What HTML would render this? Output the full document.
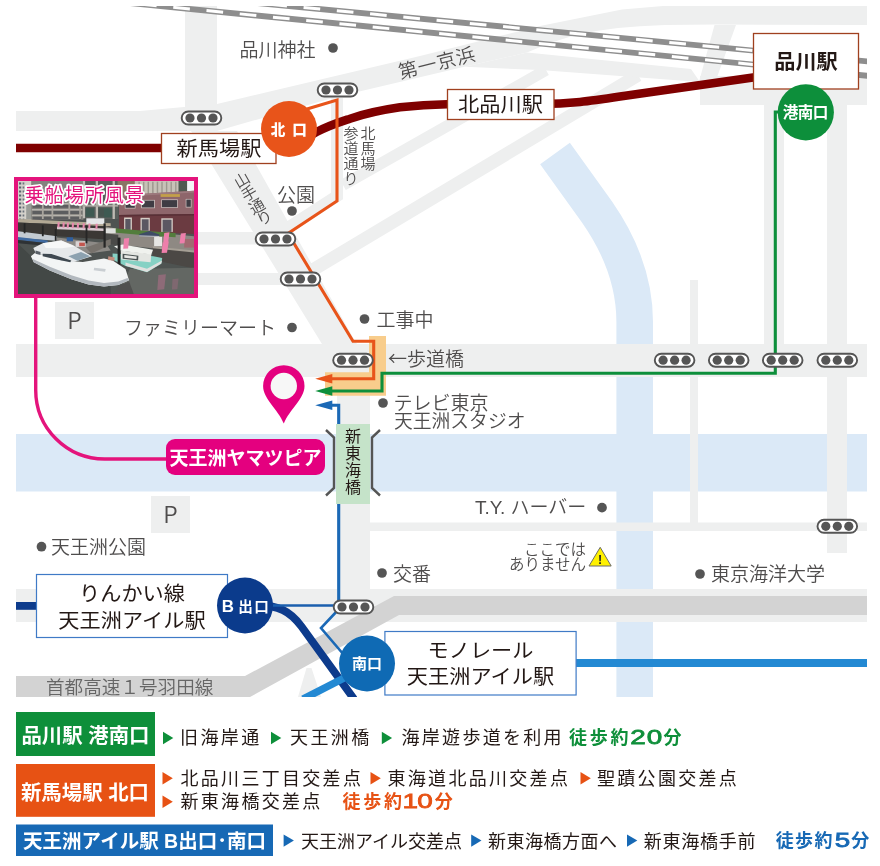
<!DOCTYPE html>
<html lang="ja">
<head>
<meta charset="utf-8">
<title>アクセスマップ</title>
<style>
html,body{margin:0;padding:0;background:#fff}
body{width:880px;height:866px;overflow:hidden;font-family:"Liberation Sans","Noto Sans CJK JP",sans-serif}
svg{display:block;position:absolute;left:0;top:0;will-change:transform}
text{font-family:"Liberation Sans","Noto Sans CJK JP",sans-serif}
.lb{fill:#4f4d4d;font-weight:350;font-size:19px}
.st{fill:#231815;font-weight:400;font-size:21.2px;text-anchor:middle}
.cw{fill:#fff;font-weight:700;text-anchor:middle}
.lg{fill:#231815;font-weight:400;font-size:18px}
</style>
</head>
<body>
<svg width="880" height="866" viewBox="0 0 880 866">
<defs>
<clipPath id="mapclip"><rect x="16" y="6" width="851" height="691"/></clipPath>
<clipPath id="photoclip"><rect x="18" y="181" width="176" height="113"/></clipPath>
<g id="sig">
<rect x="-19.8" y="-6.5" width="39.6" height="13" rx="6.5" fill="#fff" stroke="#555" stroke-width="1.9"/>
<circle cx="-11.5" cy="0" r="4.6" fill="#555"/><circle cx="0" cy="0" r="4.6" fill="#555"/><circle cx="11.5" cy="0" r="4.6" fill="#555"/>
</g>
</defs>

<!-- ================= MAP ================= -->
<g clip-path="url(#mapclip)">
<!-- rivers -->
<g id="rivers">
<rect x="16" y="434" width="851" height="57.5" fill="#dbe9f7"/>
<path d="M555,153.5 L597,212 C620,245 634.7,280 634.7,322 L634.7,700" fill="none" stroke="#dbe9f7" stroke-width="36.6"/>
</g>
<!-- roads (over river) -->
<g fill="#eeefef">
<rect x="16" y="344" width="851" height="33"/>
<rect x="370" y="522.5" width="497" height="8.5"/>
</g>
<!-- light roads -->
<g id="roads" fill="#eeefef">
<rect x="185" y="6" width="32" height="125"/>
<polygon points="16,111 140,111 217,104 420,56 540,26 622,9.5 663,6 867,6 867,25 714,24.5 665,25 640,26.2 618,28 596,31 574,35.5 550,43 527,52.6 464.5,66.8 337,96.7 217,131 16,131"/>
<polygon points="191,131 237,131 355,341 357,344 322,344"/>
<rect x="16" y="232" width="250" height="12.5"/>
<rect x="16" y="273" width="270" height="12"/>
<rect x="700" y="76" width="167" height="29"/>
<rect x="764" y="105" width="20" height="240"/>
<rect x="827" y="105" width="20" height="448"/>
<rect x="690" y="280" width="8" height="251"/>
<rect x="337" y="377" width="33" height="240"/>
<rect x="16" y="589" width="851" height="33"/>
<polygon points="306.5,668 311.5,668 321,697 298,697"/>
</g>
<g id="diag" fill="none" stroke="#eeefef" stroke-width="13.5">
<path d="M343,185 L546,70" stroke-width="11.5"/>
<path d="M312,270.4 L638,75.2" stroke-width="13"/>
<path d="M337,98 L337,196 L286,229" stroke-width="12" stroke-linejoin="miter"/>
</g>
<polygon points="714.5,25 736,25 716,80 699.5,80" fill="#eeefef"/>
<polygon points="464.5,66.8 527,52.6 691,69 700,82 540,70" fill="#eeefef"/>
<!-- gray expressway band -->
<polygon points="16,676 245,676 394,596 867,596 867,615 399,615 250,697 16,697" fill="#d3d3d3"/>

<!-- JR lines -->
<g fill="none">
<path d="M100,-12 L900,64.6" stroke="#8e8e8e" stroke-width="5.8"/>
<path d="M100,-12 L900,64.6" stroke="#fff" stroke-width="3" stroke-dasharray="16.7 16.7" stroke-dashoffset="29.3"/>
<path d="M100,0.1 L900,79" stroke="#8e8e8e" stroke-width="5.8"/>
<path d="M100,0.1 L900,79" stroke="#fff" stroke-width="3" stroke-dasharray="16.7 16.7" stroke-dashoffset="26.6"/>
</g>

<!-- Keikyu line -->
<g fill="none" stroke="#7f0000" stroke-width="8.5">
<path d="M16,148 L170,148"/>
<path d="M296,143.5 L316.5,132 C330,125 340,122 350,118.7 C365,113.5 385,109.5 400,107.3 C415,105.5 430,104.4 447,104.2 L460,104.2"/>
<path d="M540,104 C570,104 590,101 620,96.5 L760,76.5"/>
</g>

<!-- Rinkai / monorail lines -->
<path d="M16,605.9 L40,605.9" stroke="#0d3b8c" stroke-width="7.8" fill="none"/>
<path d="M256,605 C279,605.5 290,611 301.5,626.5 L354,699" stroke="#0d3b8c" stroke-width="7.8" fill="none"/>
<path d="M348,676 L303,699" stroke="#2389d3" stroke-width="7.5" fill="none"/>
<path d="M570,663 L867,663" stroke="#2389d3" stroke-width="8.2" fill="none"/>
</g>

<!-- peach highlight -->
<path d="M369,336 H386 V395.8 H325 V372.3 H369 Z" fill="#f8cd8c"/>

<!-- routes -->
<g fill="none" stroke-width="3.1" stroke-linejoin="miter">
<path d="M307,109 L337,100 L337,201 L288,233.5 L353,341.2 L373.7,341.2 L373.7,378.7 L331,378.7" stroke="#e8541a"/>
<path d="M783,112 L775.3,112 L775.3,373.2 L382,373.2 L382,391 L331,391" stroke="#0d8f3b"/>
<path d="M331,405.3 L338.7,405.3 L338.7,602" stroke="#1b69b6"/>
<path d="M270,605.5 L336,605.5" stroke="#1b5fae" stroke-width="2.6"/>
<path d="M338,610 L321,628 L344,655" stroke="#1b69b6" stroke-width="2.6"/>
<path d="M35.7,296 L35.7,390 A69,69 0 0 0 104.7,459 L170,459" stroke="#e4147c" stroke-width="3.4"/>
</g>
<polygon points="315.2,378.7 332.3,374 332.3,383.4" fill="#e8541a"/>
<polygon points="315.2,391 332.3,386.3 332.3,395.7" fill="#0d8f3b"/>
<polygon points="315.2,405.3 332.3,400.6 332.3,410" fill="#1b69b6"/>

<!-- bridge -->
<rect x="336" y="424" width="34" height="80" fill="#c5e3c9"/>
<g fill="none" stroke="#555" stroke-width="2.4">
<path d="M326,430 L334,437.5 L334,488 L326,495.5"/>
<path d="M380,430 L372,437.5 L372,488 L380,495.5"/>
</g>

<!-- signals -->
<use href="#sig" x="337.5" y="90"/>
<use href="#sig" x="201.5" y="118"/>
<use href="#sig" x="275.5" y="239"/>
<use href="#sig" x="300.5" y="279"/>
<use href="#sig" x="353" y="360.2"/>
<use href="#sig" x="353.5" y="607"/>
<use href="#sig" x="674.6" y="360.2"/>
<use href="#sig" x="728.7" y="360.2"/>
<use href="#sig" x="782.7" y="360.2"/>
<use href="#sig" x="837.3" y="360.2"/>
<use href="#sig" x="837.3" y="526.3"/>

<!-- P boxes -->
<rect x="55" y="302" width="39" height="37" fill="#eeefef"/>
<rect x="151" y="496" width="39" height="37" fill="#eeefef"/>
<text x="74.5" y="329" class="lb" style="font-size:23px;text-anchor:middle;font-family:'Noto Sans CJK JP',sans-serif">P</text>
<text x="170.5" y="523" class="lb" style="font-size:23px;text-anchor:middle;font-family:'Noto Sans CJK JP',sans-serif">P</text>

<!-- station boxes -->
<g fill="#fff" stroke="#a0401f" stroke-width="1.3">
<rect x="161.5" y="133.5" width="114.5" height="30"/>
<rect x="447.5" y="89.5" width="106.5" height="30"/>
<rect x="753.5" y="33.5" width="105" height="55.5"/>
</g>
<g fill="#fff" stroke="#3f7ac6" stroke-width="1.2">
<rect x="36.5" y="574.5" width="191" height="63"/>
<rect x="384.9" y="631.5" width="191.2" height="63.5"/>
</g>
<text x="219" y="156.5" transform="translate(0 156.5) scale(1 0.94) translate(0 -156.5)" class="st">新馬場駅</text>
<text x="500.5" y="112.5" transform="translate(0 112.5) scale(1 0.94) translate(0 -112.5)" class="st">北品川駅</text>
<text x="806" y="69.0" transform="translate(0 69.0) scale(1 0.94) translate(0 -69.0)" class="st" style="font-weight:700">品川駅</text>
<text x="132" y="601.0" transform="translate(0 601.0) scale(1 0.94) translate(0 -601.0)" class="st">りんかい線</text>
<text x="132" y="628.0" transform="translate(0 628.0) scale(1 0.94) translate(0 -628.0)" class="st">天王洲アイル駅</text>
<text x="480.5" y="658.0" transform="translate(0 658.0) scale(1 0.94) translate(0 -658.0)" class="st">モノレール</text>
<text x="480.5" y="684.5" transform="translate(0 684.5) scale(1 0.94) translate(0 -684.5)" class="st">天王洲アイル駅</text>

<!-- circles -->
<circle cx="289" cy="129" r="28" fill="#e8541a"/>
<text x="288.8" y="135.3" class="cw" style="font-size:14.6px;font-weight:900;word-spacing:3px">北 口</text>
<circle cx="805.8" cy="112.3" r="28.1" fill="#0d8f3b"/>
<text x="805.3" y="118" class="cw" style="font-size:15.6px;letter-spacing:-0.6px">港南口</text>
<circle cx="245" cy="605.5" r="28" fill="#0b3b8c"/>
<text y="612" class="cw" style="text-anchor:start"><tspan x="221.8" style="font-size:16.9px">B</tspan><tspan x="238.2" style="font-size:14.6px;letter-spacing:1.4px">出口</tspan></text>
<circle cx="367" cy="663.5" r="28" fill="#0f6ab4"/>
<text x="367" y="669" class="cw" style="font-size:15px">南口</text>

<!-- pin -->
<path d="M283.8,423.6 C278,409 263.1,399 263.1,386 A20.7,20.7 0 1 1 304.5,386 C304.5,399 289.6,409 283.8,423.6 Z" fill="#e4007f"/>
<circle cx="283.8" cy="386" r="13.2" fill="#f7f7f7"/>

<!-- pink label -->
<rect x="166" y="439" width="159" height="36" rx="9" fill="#e4007f"/>
<text x="245.5" y="464.5" class="cw" style="font-size:19px">天王洲ヤマツピア</text>

<!-- bridge text -->
<g style="font-size:16px;fill:#231815;text-anchor:middle;font-weight:400">
<text x="353" y="442.3">新</text><text x="353" y="459.3">東</text><text x="353" y="476.3">海</text><text x="353" y="493.3">橋</text>
</g>

<!-- labels & dots -->
<g fill="#555">
<circle cx="333" cy="48" r="4.85"/>
<circle cx="292" cy="211" r="4.85"/>
<circle cx="292" cy="327.5" r="4.85"/>
<circle cx="364.5" cy="319" r="4.85"/>
<circle cx="383" cy="403" r="4.85"/>
<circle cx="41.5" cy="546.7" r="4.85"/>
<circle cx="602" cy="507.6" r="4.85"/>
<circle cx="382" cy="573" r="4.85"/>
<circle cx="700" cy="574" r="4.85"/>
</g>
<text x="239.5" y="56.5" class="lb">品川神社</text>
<text x="400.5" y="79" class="lb" style="letter-spacing:0.7px" transform="rotate(-14 400.5 79)">第一京浜</text>
<g class="lb" style="font-size:15px;text-anchor:middle">
<text x="351" y="139">参</text><text x="351" y="154">道</text><text x="351" y="169">通</text><text x="351" y="184">り</text>
<text x="368" y="139">北</text><text x="368" y="154">馬</text><text x="368" y="169">場</text>
</g>
<g class="lb" style="font-size:15.5px;text-anchor:middle"><text transform="translate(241.8 180) rotate(-30)" x="0" y="5.6">山</text><text transform="translate(249.2 193.2) rotate(-30)" x="0" y="5.6">手</text><text transform="translate(256.9 206.2) rotate(-30)" x="0" y="5.6">通</text><text transform="translate(264.3 217.8) rotate(-30)" x="0" y="5.6">り</text></g>
<text x="277" y="202" class="lb">公園</text>
<text x="124" y="335" class="lb">ファミリーマート</text>
<text x="376.5" y="327" class="lb">工事中</text>
<text x="388" y="365.5" class="lb"><tspan style="font-family:'Noto Sans CJK JP',sans-serif">←</tspan>歩道橋</text>
<text x="393.5" y="410" class="lb" style="font-size:19px">テレビ東京</text>
<text x="394" y="428" class="lb" style="font-size:18.8px">天王洲スタジオ</text>
<text x="51" y="554" class="lb">天王洲公園</text>
<text x="475" y="514" class="lb">T.Y. ハーバー</text>
<text x="393" y="581" class="lb">交番</text>
<text x="586" y="554.5" class="lb" style="font-size:15.5px;text-anchor:end">ここでは</text>
<text x="586" y="570" class="lb" style="font-size:15.5px;text-anchor:end">ありません</text>
<text x="711" y="581" class="lb">東京海洋大学</text>
<text x="46" y="694" class="lb" style="fill:#666;font-size:18.6px">首都高速１号羽田線</text>

<!-- warning -->
<path d="M600.2,547.3 L611.2,566 L589,566 Z" fill="#fff100" stroke="#6b6b6b" stroke-width="1" stroke-linejoin="round"/>
<text x="600.2" y="564" style="font-size:12.5px;font-weight:700;fill:#222;text-anchor:middle">!</text>

<!-- ================= PHOTO ================= -->
<rect x="14" y="177" width="184" height="121" fill="#e4147c"/>
<g clip-path="url(#photoclip)" id="photo">
<rect x="17" y="180" width="178" height="115" fill="#4e5351"/>
<polygon points="17.6,180.3 31.9,180.3 31.9,219.7 17.6,219.7" fill="#d4d1cb"/>
<polygon points="19.0,182.4 21.2,182.4 21.2,184.5 19.0,184.5" fill="#59626e"/>
<polygon points="22.6,182.4 24.3,182.4 24.3,184.5 22.6,184.5" fill="#6b737c"/>
<polygon points="19.0,186.5 21.2,186.5 21.2,188.5 19.0,188.5" fill="#59626e"/>
<polygon points="22.6,186.5 24.3,186.5 24.3,188.5 22.6,188.5" fill="#6b737c"/>
<polygon points="19.0,190.5 21.2,190.5 21.2,192.5 19.0,192.5" fill="#59626e"/>
<polygon points="22.6,190.5 24.3,190.5 24.3,192.5 22.6,192.5" fill="#6b737c"/>
<polygon points="19.0,194.5 21.2,194.5 21.2,196.5 19.0,196.5" fill="#59626e"/>
<polygon points="22.6,194.5 24.3,194.5 24.3,196.5 22.6,196.5" fill="#6b737c"/>
<polygon points="19.0,198.5 21.2,198.5 21.2,200.5 19.0,200.5" fill="#59626e"/>
<polygon points="22.6,198.5 24.3,198.5 24.3,200.5 22.6,200.5" fill="#6b737c"/>
<polygon points="19.0,202.5 21.2,202.5 21.2,204.5 19.0,204.5" fill="#59626e"/>
<polygon points="22.6,202.5 24.3,202.5 24.3,204.5 22.6,204.5" fill="#6b737c"/>
<polygon points="19.0,206.5 21.2,206.5 21.2,208.5 19.0,208.5" fill="#59626e"/>
<polygon points="22.6,206.5 24.3,206.5 24.3,208.5 22.6,208.5" fill="#6b737c"/>
<polygon points="19.0,210.5 21.2,210.5 21.2,212.5 19.0,212.5" fill="#59626e"/>
<polygon points="22.6,210.5 24.3,210.5 24.3,212.5 22.6,212.5" fill="#6b737c"/>
<polygon points="19.0,214.5 21.2,214.5 21.2,216.5 19.0,216.5" fill="#59626e"/>
<polygon points="22.6,214.5 24.3,214.5 24.3,216.5 22.6,216.5" fill="#6b737c"/>
<polygon points="19.0,218.6 21.2,218.6 21.2,220.6 19.0,220.6" fill="#59626e"/>
<polygon points="22.6,218.6 24.3,218.6 24.3,220.6 22.6,220.6" fill="#6b737c"/>
<polygon points="26.2,203.2 31.9,203.2 31.9,219.0 26.2,219.0" fill="#9a9c98"/>
<polygon points="31.2,180.3 83.5,180.3 83.5,219.7 31.2,219.7" fill="#84827e"/>
<polygon points="32.6,204.7 81.3,204.7 81.3,207.8 32.6,207.8" fill="#5c5d5f"/>
<polygon points="32.6,210.8 81.3,210.8 81.3,214.0 32.6,214.0" fill="#5c5d5f"/>
<polygon points="32.6,216.5 81.3,216.5 81.3,219.7 32.6,219.7" fill="#5c5d5f"/>
<polygon points="31.9,202.9 82.8,202.9 82.8,204.4 31.9,204.4" fill="#b7b4ad"/>
<polygon points="31.9,209.1 82.8,209.1 82.8,210.5 31.9,210.5" fill="#b7b4ad"/>
<polygon points="31.9,214.8 82.8,214.8 82.8,216.3 31.9,216.3" fill="#b7b4ad"/>
<polygon points="41.9,193.2 43.7,193.2 43.7,219.0 41.9,219.0" fill="#a9a59e"/>
<polygon points="51.5,193.2 53.3,193.2 53.3,219.0 51.5,219.0" fill="#a9a59e"/>
<polygon points="68.4,193.2 70.2,193.2 70.2,219.0 68.4,219.0" fill="#a9a59e"/>
<polygon points="79.2,193.2 80.9,193.2 80.9,219.0 79.2,219.0" fill="#a9a59e"/>
<polygon points="82.8,180.3 110.7,180.3 110.7,218.3 82.8,218.3" fill="#5a5f5c"/>
<polygon points="82.8,180.3 85.1,180.3 85.1,218.3 82.8,218.3" fill="#bdbab3"/>
<polygon points="95.7,180.3 98.0,180.3 98.0,218.3 95.7,218.3" fill="#bdbab3"/>
<polygon points="107.8,180.3 110.1,180.3 110.1,218.3 107.8,218.3" fill="#bdbab3"/>
<polygon points="82.8,204.7 110.7,204.7 110.7,206.7 82.8,206.7" fill="#a9a7a0"/>
<polygon points="85.6,208.2 94.2,208.2 94.2,216.8 85.6,216.8" fill="#3e5a52"/>
<polygon points="98.5,208.2 107.1,208.2 107.1,216.8 98.5,216.8" fill="#46544f"/>
<polygon points="104.0,180.3 118.3,180.3 118.3,219.0 104.0,219.0" fill="#5a5f5c"/>
<polygon points="104.0,204.7 118.3,204.7 118.3,206.7 104.0,206.7" fill="#a9a7a0"/>
<polygon points="112.6,180.3 114.9,180.3 114.9,219.0 112.6,219.0" fill="#bdbab3"/>
<polygon points="104.0,208.2 111.9,208.2 111.9,217.5 104.0,217.5" fill="#3e5a52"/>
<polygon points="117.6,180.3 136.2,180.3 136.2,195.3 117.6,195.3" fill="#8a7565"/>
<polygon points="134.8,180.3 179.2,180.3 179.2,195.3 134.8,195.3" fill="#c8c2b8"/>
<polygon points="138.4,181.7 139.8,181.7 139.8,193.9 138.4,193.9" fill="#9d988f"/>
<polygon points="143.0,181.7 144.4,181.7 144.4,193.9 143.0,193.9" fill="#9d988f"/>
<polygon points="147.6,181.7 149.0,181.7 149.0,193.9 147.6,193.9" fill="#9d988f"/>
<polygon points="152.1,181.7 153.6,181.7 153.6,193.9 152.1,193.9" fill="#9d988f"/>
<polygon points="156.7,181.7 158.2,181.7 158.2,193.9 156.7,193.9" fill="#9d988f"/>
<polygon points="161.3,181.7 162.7,181.7 162.7,193.9 161.3,193.9" fill="#9d988f"/>
<polygon points="165.9,181.7 167.3,181.7 167.3,193.9 165.9,193.9" fill="#9d988f"/>
<polygon points="170.5,181.7 171.9,181.7 171.9,193.9 170.5,193.9" fill="#9d988f"/>
<polygon points="175.1,181.7 176.5,181.7 176.5,193.9 175.1,193.9" fill="#9d988f"/>
<polygon points="178.5,180.3 187.4,180.3 187.4,192.5 178.5,192.5" fill="#4f5950"/>
<polygon points="187.1,180.3 194.5,180.3 194.5,193.9 187.1,193.9" fill="#f3f5f6"/>
<polygon points="119.0,195.3 194.0,190.8 194.0,214.1 119.0,215.0" fill="#8e666b"/>
<polygon points="119.0,215.0 194.0,214.1 194.0,234.0 119.0,231.2" fill="#6b3b41"/>
<polygon points="119.0,195.3 194.0,190.8 194.0,192.5 119.0,197.1" fill="#9d7a7e"/>
<polygon points="124.8,200.4 135.5,200.4 135.5,208.5 124.8,208.5" fill="#cfc4c2"/>
<polygon points="125.5,201.1 134.8,201.1 134.8,207.8 125.5,207.8" fill="#3f3c44"/>
<polygon points="141.2,199.9 154.9,199.9 154.9,208.2 141.2,208.2" fill="#cfc4c2"/>
<polygon points="142.0,200.6 154.1,200.6 154.1,207.5 142.0,207.5" fill="#3f3c44"/>
<polygon points="161.3,199.4 177.8,199.4 177.8,207.9 161.3,207.9" fill="#cfc4c2"/>
<polygon points="162.0,200.1 177.1,200.1 177.1,207.2 162.0,207.2" fill="#3f3c44"/>
<polygon points="185.7,198.9 191.5,198.9 191.5,207.5 185.7,207.5" fill="#cfc4c2"/>
<polygon points="186.4,199.6 190.8,199.6 190.8,206.8 186.4,206.8" fill="#3f3c44"/>
<polygon points="124.1,217.5 131.9,217.5 131.9,229.9 124.1,229.9" fill="#d6cec7"/>
<polygon points="125.3,219.0 130.6,219.0 130.6,229.9 125.3,229.9" fill="#5b5762"/>
<polygon points="140.5,217.8 149.8,217.8 149.8,230.7 140.5,230.7" fill="#d6cec7"/>
<polygon points="141.8,219.3 148.6,219.3 148.6,230.7 141.8,230.7" fill="#5b5762"/>
<polygon points="161.3,218.3 172.8,218.3 172.8,231.9 161.3,231.9" fill="#d6cec7"/>
<polygon points="162.6,219.7 171.5,219.7 171.5,231.9 162.6,231.9" fill="#5b5762"/>
<polygon points="160.6,194.1 179.9,194.1 179.9,196.9 160.6,196.9" fill="#c3a04a"/>
<polygon points="119.0,215.0 194.0,214.1 194.0,215.5 119.0,216.4" fill="#5a2f36"/>
<polygon points="17.6,219.0 110.7,223.3 110.7,226.4 17.6,222.6" fill="#b3a995"/>
<polygon points="17.6,222.6 110.7,226.4 110.7,239.8 57.0,236.2 17.6,231.2" fill="#3b3835"/>
<polygon points="86.3,218.3 104.3,218.3 104.3,224.1 86.3,224.1" fill="#e4e6e8"/>
<polygon points="57.0,226.4 110.7,228.7 110.7,231.2 57.0,229.3" fill="#d8c9cf"/>
<polygon points="57.7,222.2 59.7,222.3 59.4,227.6 57.4,227.3" fill="#e889ae"/>
<polygon points="62.7,222.4 64.7,222.5 64.4,227.8 62.4,227.5" fill="#e889ae"/>
<polygon points="67.0,222.5 69.0,222.7 68.7,228.0 66.7,227.7" fill="#e889ae"/>
<polygon points="72.0,222.7 74.0,222.9 73.7,228.2 71.7,227.9" fill="#e889ae"/>
<polygon points="77.0,222.9 79.0,223.1 78.8,228.4 76.8,228.1" fill="#e889ae"/>
<polygon points="82.8,223.2 84.8,223.3 84.5,228.6 82.5,228.3" fill="#e889ae"/>
<polygon points="88.5,223.4 90.5,223.5 90.2,228.8 88.2,228.6" fill="#e889ae"/>
<polygon points="95.7,223.7 97.7,223.8 97.4,229.1 95.4,228.8" fill="#e889ae"/>
<polygon points="104.0,226.1 119.0,229.3 194.0,236.2 194.0,251.9 152.7,248.3 104.0,243.3" fill="#8e8983"/>
<polygon points="114.0,228.3 147.0,230.9 175.6,233.0 175.6,237.3 147.0,235.5 114.0,232.6" fill="#527d3c"/>
<polygon points="105.4,228.3 115.7,228.3 115.7,233.3 105.4,233.3" fill="#dfe0de"/>
<polygon points="104.0,233.3 118.3,234.7 118.3,245.5 104.0,243.3" fill="#4a4a48"/>
<polygon points="152.7,247.3 194.0,251.6 194.0,268.4 164.2,262.2 152.7,256.2" fill="#4b4845"/>
<polygon points="152.7,246.2 194.0,250.5 194.0,252.5 152.7,248.2" fill="#a59f95"/>
<polygon points="139.1,234.3 149.6,231.0 159.3,234.5 159.3,236.7 139.1,236.3" fill="#3f4c66"/>
<polygon points="139.1,235.5 159.3,235.9 159.3,236.7 139.1,236.3" fill="#e8e8e8"/>
<polygon points="154.1,236.9 162.0,236.9 162.0,246.2 154.1,246.2" fill="#e6e6e3"/>
<polygon points="184.2,239.0 194.0,239.0 194.0,247.6 184.2,247.6" fill="#a06a70"/>
<polygon points="17.6,231.2 57.0,236.2 57.0,240.8 17.6,237.9" fill="#c3cad1"/>
<polygon points="17.6,236.9 47.7,240.5 47.7,243.3 17.6,240.0" fill="#3f6aa0"/>
<polygon points="17.6,240.0 47.7,243.3 47.7,245.9 17.6,243.3" fill="#2e3235"/>
<polygon points="57.0,237.6 105.7,243.3 110.7,250.5 88.5,253.4 57.0,243.3" fill="#8d8a86"/>
<polygon points="66.7,237.3 73.0,237.3 73.0,241.3 66.7,241.3" fill="#2f5f9f"/>
<polygon points="75.6,241.2 85.6,241.2 85.6,246.9 75.6,246.9" fill="#d9d3d3"/>
<polygon points="79.2,242.6 84.9,242.6 84.9,246.2 79.2,246.2" fill="#c2564e"/>
<polygon points="85.6,247.6 110.7,239.0 110.7,244.8 91.4,253.4" fill="#77726c"/>
<polygon points="23.7,223.3 25.5,223.3 25.5,233.3 23.7,233.3" fill="#262626"/>
<polygon points="41.9,225.4 43.7,225.4 43.7,236.2 41.9,236.2" fill="#262626"/>
<polygon points="54.8,229.0 56.6,229.0 56.6,240.8 54.8,240.8" fill="#262626"/>
<polygon points="85.6,225.4 87.4,225.4 87.4,243.3 85.6,243.3" fill="#262626"/>
<polygon points="103.5,223.3 105.7,223.3 105.7,247.6 103.5,247.6" fill="#262626"/>
<polygon points="17.6,243.3 31.2,256.2 34.1,262.0 49.8,270.6 71.3,279.2 88.5,284.2 110.7,286.6 110.7,294.9 17.6,294.9" fill="#434846"/>
<polygon points="129.8,269.1 194.0,267.7 194.0,294.9 118.3,294.9" fill="#636763"/>
<polygon points="158.4,274.9 165.9,274.3 164.2,289.2 157.3,289.9" fill="#8e6b78"/>
<polygon points="172.5,279.2 178.5,278.6 177.4,289.2 171.9,289.5" fill="#7f6870"/>
<polygon points="118.3,286.3 129.1,281.3 134.1,294.9 112.6,294.9" fill="#50504f"/>
<polygon points="112.6,253.4 120.5,254.1 153.4,256.2 162.2,257.9 161.3,263.7 147.0,272.3 125.5,266.0 112.6,259.4" fill="#86d1c4"/>
<polygon points="125.5,265.7 147.0,272.0 161.3,263.4 162.0,260.5 147.0,268.8 125.5,262.5" fill="#e0e0de"/>
<polygon points="120.5,250.5 151.3,254.1 150.6,262.2 121.2,259.4" fill="#e4e6e2"/>
<polygon points="122.6,253.7 138.4,255.7 138.1,260.5 122.6,258.8" fill="#4a5252"/>
<polygon points="124.3,255.1 136.7,256.5 136.5,259.1 124.3,257.7" fill="#e9e9e6"/>
<polygon points="114.0,246.2 122.6,244.5 153.0,249.8 151.3,254.5 120.9,250.8" fill="#f0f2ee"/>
<polygon points="117.6,237.6 120.5,237.6 120.5,264.8 117.6,264.8" fill="#222222"/>
<polygon points="124.1,238.6 129.2,238.0 128.1,248.5 123.2,248.8" fill="#ee7fab"/>
<polygon points="164.2,232.9 169.5,232.3 168.2,241.9 163.3,242.2" fill="#ee7fab"/>
<polygon points="162.7,242.2 168.8,241.6 167.0,252.8 161.6,253.1" fill="#ee7fab"/>
<polygon points="180.8,233.6 185.9,233.0 184.5,243.3 179.6,243.6" fill="#ee7fab"/>
<polygon points="30.9,256.2 35.5,252.4 61.3,260.2 82.8,262.0 104.0,258.4 112.6,260.5 125.5,269.1 129.0,280.3 118.3,284.9 104.0,286.6 88.5,284.5 71.3,279.2 49.8,270.6 33.8,262.2" fill="#f3f5f5"/>
<polygon points="33.8,262.2 49.8,270.6 71.3,279.2 88.5,284.5 104.0,286.6 118.3,284.9 129.0,280.3 127.5,278.0 118.3,281.4 104.0,282.9 88.5,280.6 71.3,275.3 49.8,266.8 32.3,258.8" fill="#b2b8be"/>
<polygon points="33.3,247.9 42.7,243.3 61.3,240.5 72.7,245.1 82.1,250.5 92.1,256.2 72.7,262.2 61.3,260.5 35.5,252.6" fill="#e5e8ea"/>
<polygon points="42.7,243.3 61.3,240.5 74.9,246.5 62.0,248.3 45.8,247.9" fill="#f7f8f8"/>
<polygon points="42.7,253.8 51.5,254.1 71.3,260.5 70.2,262.2 54.4,259.1 42.7,256.2" fill="#3e4850"/>
<polygon points="68.4,256.2 81.0,251.9 90.2,256.2 77.3,260.8" fill="#8da2b0"/>
<polygon points="35.5,250.5 40.5,251.9 40.5,255.1 35.5,253.7" fill="#5a6168"/>
<polygon points="108.3,256.2 114.7,257.4 114.3,260.8 108.0,260.0" fill="#c48c7d"/>
<polygon points="94.2,267.7 105.7,269.1 105.1,271.7 93.7,270.3" fill="#c9ced2"/>

</g>
<text x="24.5" y="201.5" style="font-size:19.2px;letter-spacing:0.9px;font-weight:400;fill:#e4147c;stroke:#fff;stroke-width:3.4;paint-order:stroke;stroke-linejoin:round">乗船場所風景</text>

<!-- ================= LEGEND ================= -->
<rect x="16" y="712" width="139" height="44" fill="#0e8f3a"/>
<rect x="16" y="764" width="139" height="52.8" fill="#e75214"/>
<rect x="16" y="824.5" width="257" height="31.5" fill="#1769b5"/>
<text x="85.5" y="743.3" class="cw" style="font-size:20.4px">品川駅 港南口</text>
<text x="85" y="799.5" class="cw" style="font-size:20.4px">新馬場駅 北口</text>
<text x="144.5" y="847.5" class="cw" style="font-size:19.5px">天王洲アイル駅 B出口･南口</text>
<!-- legend row 1 -->
<g class="lg" style="letter-spacing:2.4px">
<polygon points="163,731.8 173.3,738 163,744.2" fill="#0e8f3a"/>
<text x="180" y="744">旧海岸通</text>
<polygon points="271,731.8 281.3,738 271,744.2" fill="#0e8f3a"/>
<text x="290" y="744">天王洲橋</text>
<polygon points="381.8,731.8 392.1,738 381.8,744.2" fill="#0e8f3a"/>
<text x="401.5" y="744" style="letter-spacing:2.3px">海岸遊歩道を利用</text>
<text x="569" y="744" style="font-weight:700;fill:#0e8f3a;letter-spacing:2.7px">徒歩約</text>
<text transform="translate(637.9 744.4) scale(1.36 1)" x="0" y="0" style="font-size:20.5px;font-weight:400;fill:#0e8f3a;stroke:#0e8f3a;stroke-width:0.75;text-anchor:middle;letter-spacing:0">2</text><text transform="translate(654.5 744.4) scale(1.36 1)" x="0" y="0" style="font-size:20.5px;font-weight:400;fill:#0e8f3a;stroke:#0e8f3a;stroke-width:0.75;text-anchor:middle;letter-spacing:0">0</text>
<text x="663.4" y="744" style="font-weight:700;fill:#0e8f3a;letter-spacing:0">分</text>
</g>
<!-- legend row 2 -->
<g class="lg" style="letter-spacing:2.3px">
<polygon points="162.5,772.0 172.8,778.2 162.5,784.4000000000001" fill="#e75214"/>
<text x="180.5" y="785">北品川三丁目交差点</text>
<polygon points="370.5,772.0 380.8,778.2 370.5,784.4000000000001" fill="#e75214"/>
<text x="387.5" y="785">東海道北品川交差点</text>
<polygon points="580.5,772.0 590.8,778.2 580.5,784.4000000000001" fill="#e75214"/>
<text x="597" y="785">聖蹟公園交差点</text>
<polygon points="162.5,795.5 172.8,801.7 162.5,807.9000000000001" fill="#e75214"/>
<text x="180.5" y="808">新東海橋交差点</text>
<text x="342.5" y="808" style="font-weight:700;fill:#e75214;letter-spacing:2.7px">徒歩約</text>
<text transform="translate(410.2 808.4) scale(1.36 1)" x="0" y="0" style="font-size:20.5px;font-weight:400;fill:#e75214;stroke:#e75214;stroke-width:0.75;text-anchor:middle;letter-spacing:0">1</text><text transform="translate(425.1 808.4) scale(1.36 1)" x="0" y="0" style="font-size:20.5px;font-weight:400;fill:#e75214;stroke:#e75214;stroke-width:0.75;text-anchor:middle;letter-spacing:0">0</text>
<text x="434.7" y="808" style="font-weight:700;fill:#e75214;letter-spacing:0">分</text>
</g>
<!-- legend row 3 -->
<g class="lg">
<polygon points="283.6,834.4 293.90000000000003,840.6 283.6,846.8000000000001" fill="#1769b5"/>
<text x="301" y="847.5">天王洲アイル交差点</text>
<polygon points="471.2,834.4 481.5,840.6 471.2,846.8000000000001" fill="#1769b5"/>
<text x="488" y="847.5" style="letter-spacing:0.5px">新東海橋方面へ</text>
<polygon points="627,834.4 637.3,840.6 627,846.8000000000001" fill="#1769b5"/>
<text x="643.8" y="847.5" style="letter-spacing:0.75px">新東海橋手前</text>
<text x="775.7" y="847" style="font-weight:700;fill:#1769b5;letter-spacing:1.4px">徒歩約</text>
<text transform="translate(842.5 847.4) scale(1.36 1)" x="0" y="0" style="font-size:20.5px;font-weight:400;fill:#1769b5;stroke:#1769b5;stroke-width:0.75;text-anchor:middle;letter-spacing:0">5</text>
<text x="851.3" y="847" style="font-weight:700;fill:#1769b5;letter-spacing:0">分</text>
</g>
</svg>
</body>
</html>
